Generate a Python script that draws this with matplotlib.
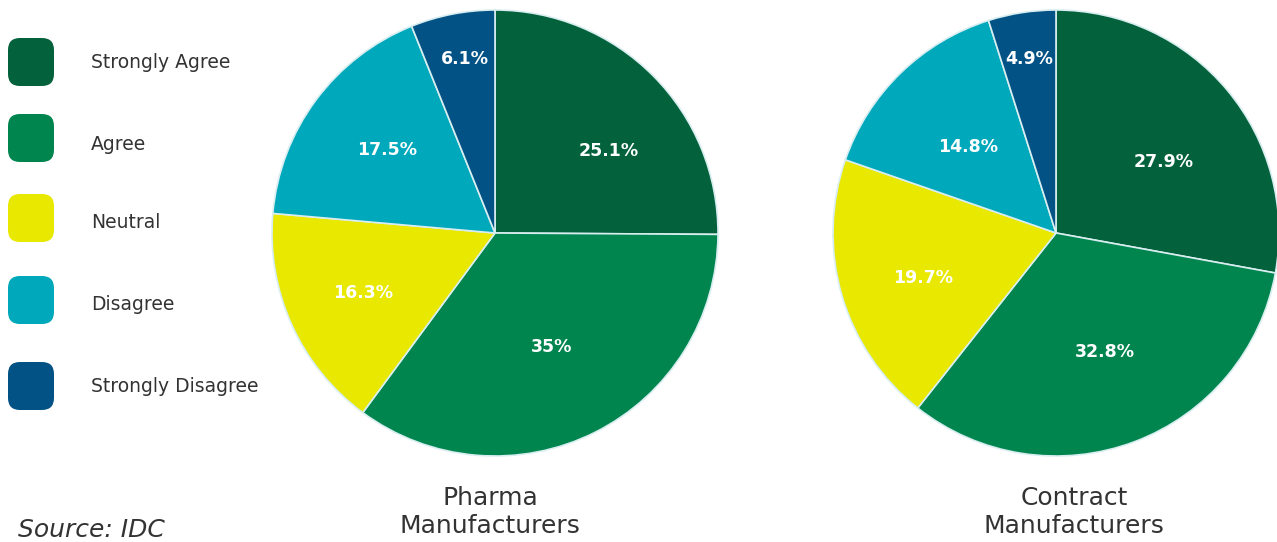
import numpy as np
import matplotlib
matplotlib.use("Agg")
import matplotlib.pyplot as plt
from matplotlib.patches import FancyBboxPatch

categories = ["Strongly Agree", "Agree", "Neutral", "Disagree", "Strongly Disagree"]
colors = ["#03613B", "#00854F", "#E8E800", "#00A8BB", "#035286"]
pharma = [25.1, 35.0, 16.3, 17.5, 6.1]
pharma_lbl = ["25.1%", "35%", "16.3%", "17.5%", "6.1%"]
contract = [27.9, 32.8, 19.7, 14.8, 4.9]
contract_lbl = ["27.9%", "32.8%", "19.7%", "14.8%", "4.9%"]
titles = ["Pharma\nManufacturers", "Contract\nManufacturers"]

W, H = 1277, 542
fig = plt.figure(figsize=(W / 100, H / 100), dpi=100)

# background axes in pixel coords for legend / text
bg = fig.add_axes([0, 0, 1, 1])
bg.set_xlim(0, W)
bg.set_ylim(H, 0)
bg.axis("off")

R = 223
# label radius (fraction of R) and small angle nudges, per slice
dists = [[0.63, 0.57, 0.65, 0.61, 0.79], [0.58, 0.575, 0.63, 0.55, 0.79]]
nudges = [[-9, 0, 0, -1, -1], [-6.5, 1.5, 2.5, 1.5, 0]]


def draw_pie(cx, cy, vals, lbls, dist, nudge):
    ax = fig.add_axes([(cx - R) / W, (H - cy - R) / H, 2 * R / W, 2 * R / H])
    wedges, _ = ax.pie(vals, colors=colors, startangle=90, counterclock=False,
                       radius=1, wedgeprops=dict(edgecolor="#d8eef0", linewidth=1.2))
    for w, t, d, n in zip(wedges, lbls, dist, nudge):
        a = np.deg2rad((w.theta1 + w.theta2) / 2 + n)
        ax.text(d * np.cos(a), d * np.sin(a), t, ha="center", va="center",
                color="white", fontsize=12.5, fontweight="bold")
    ax.set_xlim(-1, 1)
    ax.set_ylim(-1, 1)
    ax.set_aspect("auto")
    for w in wedges:
        w.set_clip_on(False)
    ax.axis("off")


draw_pie(495, 233, pharma, pharma_lbl, dists[0], nudges[0])
draw_pie(1056, 233, contract, contract_lbl, dists[1], nudges[1])

# legend
box_y = [62, 138, 218, 300, 386]
text_y = [63, 145, 222, 305, 386]
for by, ty, c, name in zip(box_y, text_y, colors, categories):
    bg.add_patch(FancyBboxPatch((8, by - 24), 46, 48, boxstyle="round,pad=0,rounding_size=12",
                                facecolor=c, edgecolor="none"))
    bg.text(91, ty, name, ha="left", va="center", fontsize=13.5, color="#333333")

bg.text(490, 512, titles[0], ha="center", va="center", fontsize=18, color="#333333",
        linespacing=1.2)
bg.text(1074, 512, titles[1], ha="center", va="center", fontsize=18, color="#333333",
        linespacing=1.2)
bg.text(18, 530, "Source: IDC", ha="left", va="center", fontsize=18, style="italic",
        color="#333333")

fig.savefig("out.png", dpi=100)
